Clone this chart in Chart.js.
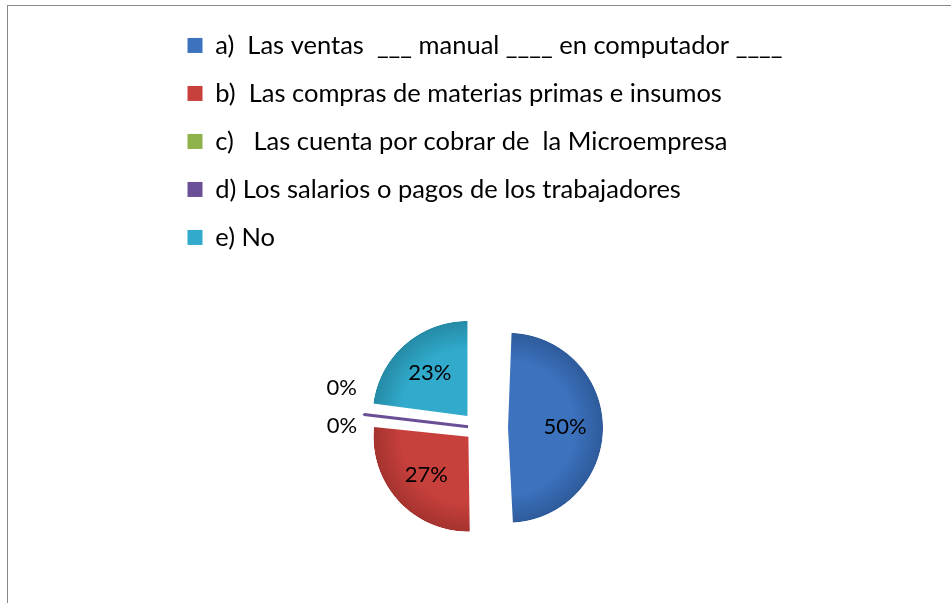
<!DOCTYPE html>
<html>
<head>
<meta charset="utf-8">
<script src="https://cdn.jsdelivr.net/npm/chart.js@4.4.1/dist/chart.umd.min.js"></script>
<style>
  html, body { margin: 0; padding: 0; background: #fff; overflow: hidden; }
  #wrap { position: relative; width: 951px; height: 603px; overflow: hidden; }
  #marco { position: absolute; left: 7px; top: 5px; right: -2px; bottom: -2px; border-left: 1px solid #888; border-top: 1px solid #888; }
  #caja { position: absolute; left: 0; top: 0; width: 951px; height: 846px; }
</style>
</head>
<body>
<div id="wrap">
  <div id="marco"></div>
  <div id="caja"><canvas id="myChart"></canvas></div>
</div>
<script>
const categorias = [
  'a)  Las ventas  ___ manual ____ en computador ____',
  'b)  Las compras de materias primas e insumos',
  'c)   Las cuenta por cobrar de  la Microempresa',
  'd) Los salarios o pagos de los trabajadores',
  'e) No'
];
const valores = [50, 27, 0, 0.45, 23];

// estilos
const colores = ['#3d72bf', '#c7403c', '#8fb34a', '#6a4e96', '#31aacc'];
const oscuros = ['#2e5b9b', '#a5332f', '#6f8c36', '#523a78', '#258ba6'];
const desplazamientos = [120, 52, 0, 40, 64];
const bordes = [0, 0, 0, 3, 0];
const radio = 95;
const fuente = 'Lato';

// degradado radial; se vuelve transparente pasado el radio para que
// la porcion desplazada de 50% no crezca
function relleno(ctx) {
  const i = ctx.dataIndex;
  const chart = ctx.chart;
  const area = chart.chartArea;
  if (!area) return colores[i];
  const cx = (area.left + area.right) / 2;
  const cy = (area.top + area.bottom) / 2;
  const lim = 140;
  const g = chart.ctx.createRadialGradient(cx, cy, 0, cx, cy, lim);
  g.addColorStop(0, colores[i]);
  g.addColorStop(0.7 * radio / lim, colores[i]);
  g.addColorStop((radio - 0.5) / lim, oscuros[i]);
  g.addColorStop((radio + 0.5) / lim, 'rgba(255,255,255,0)');
  g.addColorStop(1, 'rgba(255,255,255,0)');
  return g;
}

const etiquetas = {
  id: 'etiquetas',
  afterDatasetsDraw(chart) {
    const ctx = chart.ctx;
    const meta = chart.getDatasetMeta(0);
    const total = valores.reduce((a, b) => a + b, 0);
    ctx.save();
    ctx.font = '22px ' + fuente;
    ctx.fillStyle = '#000';
    ctx.textAlign = 'center';
    ctx.textBaseline = 'middle';
    let fuera = 0;
    meta.data.forEach((arc, i) => {
      const p = arc.getProps(['x', 'y', 'startAngle', 'endAngle', 'outerRadius'], true);
      const mid = (p.startAngle + p.endAngle) / 2;
      const t = (arc.options.offset || 0) / 4;
      const parte = valores[i] / total;
      const texto = Math.round(parte * 100) + '%';
      let lx, ly;
      if (parte > 0.05) {
        const r = t + p.outerRadius * 0.6;
        lx = p.x + Math.cos(mid) * r;
        ly = p.y + Math.sin(mid) * r;
      } else {
        const r = p.outerRadius + 42;
        lx = p.x + Math.cos(mid) * r;
        ly = p.y + Math.sin(mid) * r + (fuera === 0 ? -26 : 14);
        fuera++;
      }
      ctx.fillText(texto, lx, ly);
    });
    ctx.restore();
  }
};

const myChart = new Chart(document.getElementById('myChart'), {
  type: 'pie',
  data: {
    labels: categorias,
    datasets: [{
      data: valores,
      backgroundColor: relleno,
      borderWidth: bordes,
      borderColor: colores,
      offset: desplazamientos
    }]
  },
  options: {
    responsive: true,
    maintainAspectRatio: false,
    animation: false,
    radius: radio,
    layout: { padding: { left: 165, right: 160, top: 10, bottom: 0 } },
    plugins: {
      legend: {
        position: 'chartArea',
        align: 'start',
        title: { display: true, text: ' ', font: { size: 1 }, padding: { top: 9, bottom: 0 } },
        labels: {
          font: { family: fuente, size: 25.5 },
          color: '#000',
          boxWidth: 15,
          boxHeight: 15,
          padding: 22.5,
          generateLabels(chart) {
            return categorias.map((c, i) => ({
              text: c,
              fillStyle: colores[i],
              strokeStyle: colores[i],
              fontColor: '#000',
              lineWidth: 0,
              index: i,
              hidden: false
            }));
          }
        }
      },
      tooltip: { enabled: false }
    }
  },
  plugins: [etiquetas]
});
</script>
</body>
</html>
